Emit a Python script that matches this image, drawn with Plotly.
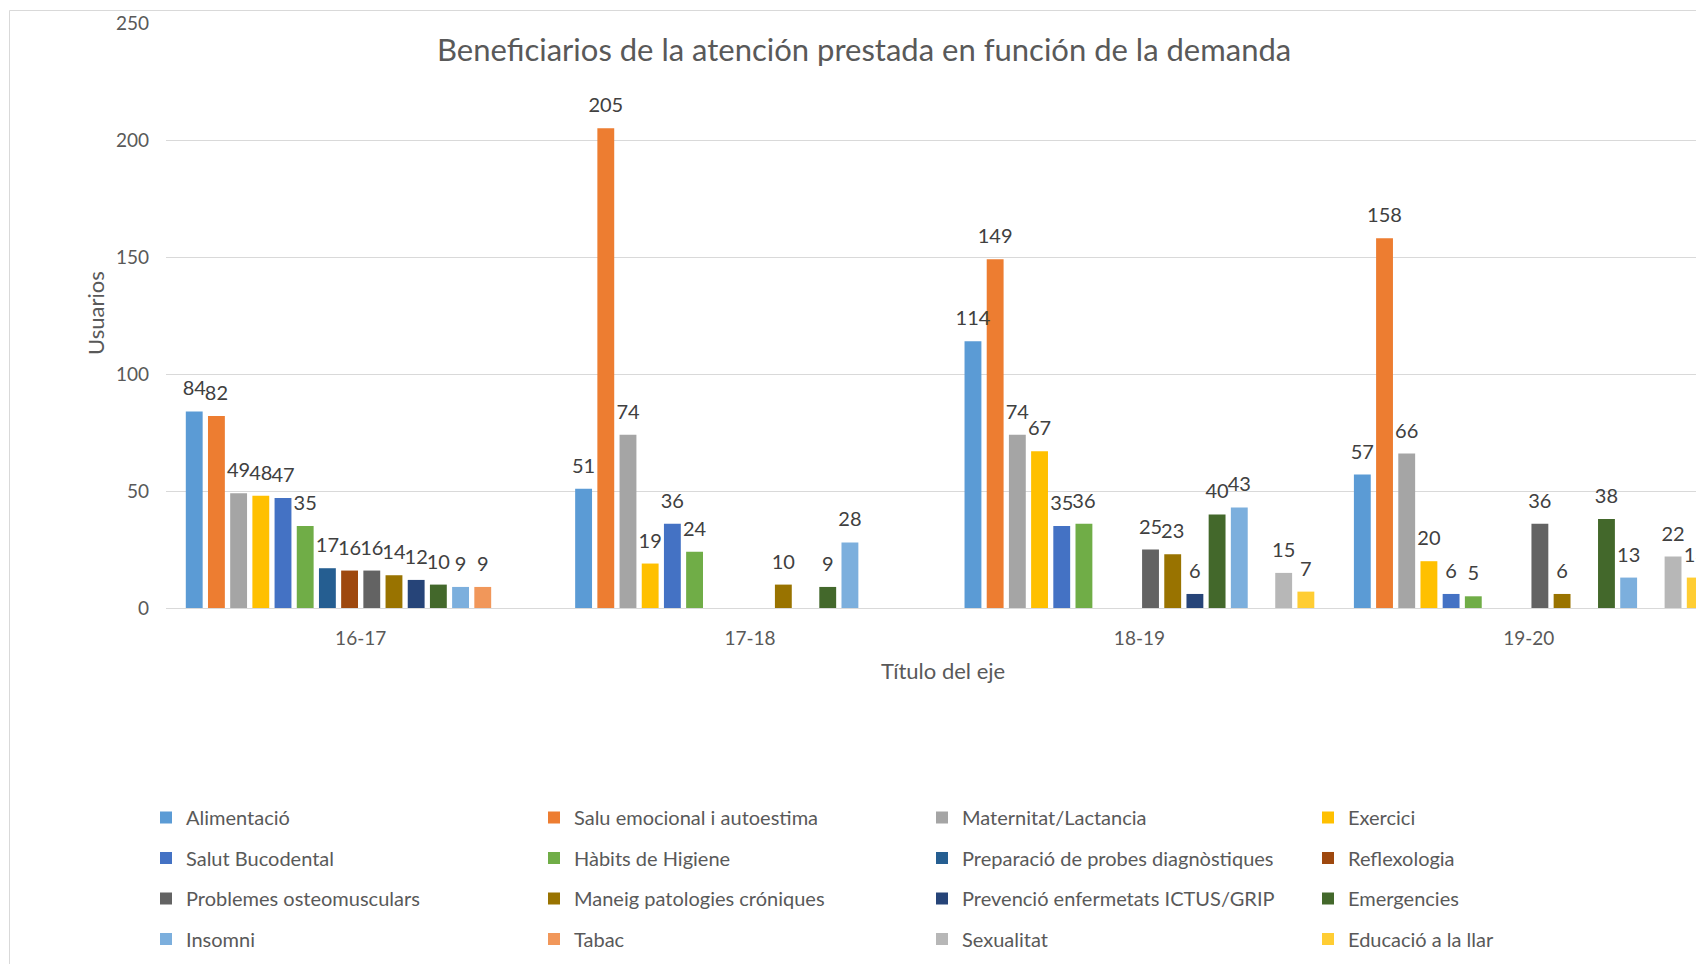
import plotly.graph_objects as go

categories = ["16-17", "17-18", "18-19", "19-20"]

series_names = [
    "Alimentació", "Salu emocional i autoestima", "Maternitat/Lactancia", "Exercici",
    "Salut Bucodental", "Hàbits de Higiene", "Preparació de probes diagnòstiques", "Reflexologia",
    "Problemes osteomusculars", "Maneig patologies cróniques", "Prevenció enfermetats ICTUS/GRIP", "Emergencies",
    "Insomni", "Tabac", "Sexualitat", "Educació a la llar",
]

series_colors = [
    "#5B9BD5", "#ED7D31", "#A5A5A5", "#FFC000",
    "#4472C4", "#70AD47", "#255E91", "#9E480E",
    "#636363", "#997300", "#264478", "#43682B",
    "#7CAFDD", "#F1975A", "#B7B7B7", "#FFCD33",
]

# values per series: [16-17, 17-18, 18-19, 19-20]
alimentacio = [84, 51, 114, 57]
salu_emocional = [82, 205, 149, 158]
maternitat = [49, 74, 74, 66]
exercici = [48, 19, 67, 20]
salut_bucodental = [47, 36, 35, 6]
habits_higiene = [35, 24, 36, 5]
preparacio_probes = [17, None, None, None]
reflexologia = [16, None, None, None]
problemes_osteo = [16, None, 25, 36]
maneig_patologies = [14, 10, 23, 6]
prevencio_ictus = [12, None, 6, None]
emergencies = [10, 9, 40, 38]
insomni = [9, 28, 43, 13]
tabac = [9, None, None, None]
sexualitat = [None, None, 15, 22]
educacio_llar = [None, None, 7, 13]

series_values = [
    alimentacio, salu_emocional, maternitat, exercici,
    salut_bucodental, habits_higiene, preparacio_probes, reflexologia,
    problemes_osteo, maneig_patologies, prevencio_ictus, emergencies,
    insomni, tabac, sexualitat, educacio_llar,
]

y_ticks = [0, 50, 100, 150, 200, 250]

FONT = "Lato"
OFF = 8  # page body margin of the html page
W, H = 1704 - OFF, 964 - OFF
L, R, T, B = 158, 0, 15, 356
PW = W - L - R
PH = H - T - B
BARGAP = 0.088


def xp(px):  # px measured on the 1704x964 page
    return (px - OFF - L) / PW


def yp(py):
    return (H - B - (py - OFF)) / PH


fig = go.Figure()
legend_names = ["legend", "legend2", "legend3", "legend4"]
for i, (name, vals, col) in enumerate(zip(series_names, series_values, series_colors)):
    fig.add_trace(go.Bar(
        name=name,
        x=categories,
        y=vals,
        marker=dict(color=col, line=dict(width=0)),
        legend=legend_names[i % 4],
        legendgroup=name,
        hovertemplate=name + ": %{y}<extra></extra>",
    ))

# data labels: grouped scatter text placed on top of each bar
for i, (name, vals) in enumerate(zip(series_names, series_values)):
    fig.add_trace(go.Scatter(
        x=categories,
        y=vals,
        mode="markers+text",
        orientation="v",
        marker=dict(size=16, opacity=0),
        text=[("" if v is None else str(v)) for v in vals],
        textposition="top center",
        textfont=dict(family=FONT, size=20, color="#404040"),
        cliponaxis=True,
        showlegend=False,
        hoverinfo="skip",
    ))

legend_text_x = [186, 574, 962, 1348]
legend_common = dict(
    orientation="v",
    yanchor="top",
    xanchor="left",
    y=yp(798),
    bgcolor="rgba(0,0,0,0)",
    borderwidth=0,
    font=dict(family=FONT, size=20, color="#595959"),
    itemwidth=30,
    traceorder="grouped",
    tracegroupgap=11.5,
    itemclick=False,
    itemdoubleclick=False,
)

layout_legends = {}
for k, ln in enumerate(legend_names):
    d = dict(legend_common)
    d["x"] = xp(legend_text_x[k] - 40)
    layout_legends[ln] = d

fig.update_layout(
    width=W,
    height=H,
    margin=dict(l=L, r=R, t=T, b=B, pad=0),
    paper_bgcolor="white",
    plot_bgcolor="white",
    barmode="group",
    bargap=BARGAP,
    bargroupgap=0.24,
    scattermode="group",
    scattergap=BARGAP,
    showlegend=True,
    font=dict(family=FONT, color="#595959"),
    xaxis=dict(
        type="category",
        categoryorder="array",
        categoryarray=categories,
        range=[-0.5, 3.45],
        showgrid=False,
        showline=True,
        linecolor="#D9D9D9",
        linewidth=1,
        ticks="",
        tickfont=dict(family=FONT, size=19, color="#595959"),
        ticklabelstandoff=13,
        fixedrange=True,
    ),
    yaxis=dict(
        range=[0, 250],
        tickvals=y_ticks,
        showgrid=True,
        gridcolor="#D9D9D9",
        gridwidth=1,
        zeroline=False,
        showline=False,
        ticks="",
        tickfont=dict(family=FONT, size=19, color="#595959"),
        ticklabelstandoff=16,
        fixedrange=True,
    ),
    annotations=[
        dict(text="Beneficiarios de la atención prestada en función de la demanda",
             x=xp(864), y=yp(49), xref="paper", yref="paper",
             xanchor="center", yanchor="middle", showarrow=False,
             font=dict(family=FONT, size=31, color="#595959")),
        dict(text="Usuarios", x=xp(95), y=yp(313), xref="paper", yref="paper",
             xanchor="center", yanchor="middle", textangle=-90, showarrow=False,
             font=dict(family=FONT, size=22, color="#595959")),
        dict(text="Título del eje", x=xp(943), y=yp(670), xref="paper", yref="paper",
             xanchor="center", yanchor="middle", showarrow=False,
             font=dict(family=FONT, size=22, color="#595959")),
    ],
    shapes=[
        dict(type="rect", xref="paper", yref="paper",
             x0=xp(9.5), x1=xp(1760), y0=yp(1010), y1=yp(10.5),
             line=dict(color="#D9D9D9", width=1), fillcolor="rgba(0,0,0,0)", layer="below"),
    ],
    **layout_legends,
)

fig.write_html("out.html")
